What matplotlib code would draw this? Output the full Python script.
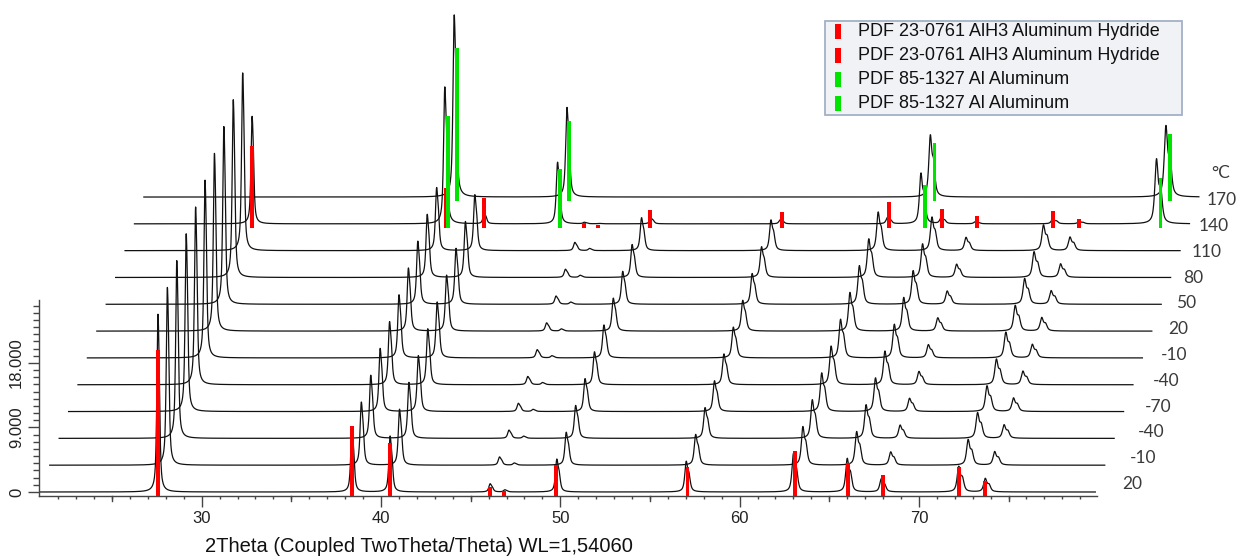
import numpy as np
import matplotlib
matplotlib.use("Agg")
import matplotlib.pyplot as plt
from matplotlib.patches import Rectangle
from matplotlib.transforms import blended_transform_factory

# ---------------- data ----------------
temps = ['20', '-10', '-40', '-70', '-40', '-10', '20', '50', '80', '110', '140', '170']

# measured AlH3 reflections (2theta, counts) of scans 20 ... 110 degC
alh3_peak_pos = [27.55, 38.37, 40.50, 46.08, 46.90, 49.80, 57.02, 63.00, 66.00, 67.90, 72.22, 73.70]
alh3_peak_cts = [24800, 8800, 7800, 1150, 300, 4600, 4300, 5400, 4700, 1850, 3600, 1900]
# remaining AlH3 in the 140 degC scan
alh3_peak_cts_140 = [15000, 0, 1500, 200, 50, 800, 600, 900, 900, 300, 700, 350]
# Al reflections
al_peak_pos = [38.30, 44.59, 64.86, 78.00]
al_peak_cts_140 = [19100, 8600, 7100, 9100]
al_peak_cts_170 = [25400, 12500, 8700, 10000]

# reference lines (PDF cards), relative intensities
alh3_ref_pos = [27.55, 38.37, 40.50, 46.08, 46.86, 49.77, 57.10, 63.09, 66.03, 68.00, 72.25, 73.69]
alh3_ref_int = [100, 47.8, 36.4, 5.8, 3.2, 21.1, 19.5, 30.7, 22.4, 14.2, 19.7, 10.1]
al_ref_pos = [38.47, 44.72, 65.10, 78.23]
al_ref_int = [100, 52, 38, 44]

legend_labels = ['PDF 23-0761 AlH3 Aluminum Hydride', 'PDF 23-0761 AlH3 Aluminum Hydride',
                 'PDF 85-1327 Al Aluminum', 'PDF 85-1327 Al Aluminum']
legend_colors = ['#FF0000', '#FF0000', '#00E400', '#00E400']

# --------------- layout constants ---------------
W, H = 1237, 557
dx = 0.525        # waterfall shift per scan (deg)
dy = 3740         # waterfall shift per scan (counts)
scan_range = (21.0, 79.85)

def pv(x, x0, fw, eta=0.7):
    t = (x - x0) / fw
    return eta / (1 + 4 * t * t) + (1 - eta) * np.exp(-4 * np.log(2) * t * t)

def reflection(x, x0, h):
    fw = 0.09 + 0.0016 * x0
    x2 = 2 * np.degrees(np.arcsin(1.54439 / 1.54056 * np.sin(np.radians(x0 / 2))))
    t = np.linspace(x0 - 0.5, x0 + 0.5, 2001)
    norm = (pv(t, x0, fw) + 0.5 * pv(t, x2, fw)).max()
    return h * (pv(x, x0, fw) + 0.5 * pv(x, x2, fw)) / norm

def pattern(x, pos, cts):
    y = np.zeros_like(x)
    for p, c in zip(pos, cts):
        if c > 0:
            y += reflection(x, p, c)
    return y

fig = plt.figure(figsize=(W / 100, H / 100), dpi=100)
x30, ppd = 201.7, 17.93
ax_l = 39.3
y0px, axb = 492.0, 496.0
ppc = 7.17 / 1000
ax = fig.add_axes([ax_l / W, (H - axb) / H, (W - ax_l) / W, axb / H])
ax.set_xlim(30 - (x30 - ax_l) / ppd, 30 + (W - x30) / ppd)
ax.set_ylim(-(axb - y0px) / ppc, y0px / ppc)
ax.patch.set_alpha(0)

xx = np.arange(scan_range[0], scan_range[1], 0.01)
for i in range(len(temps)):
    if i < 10:
        y = pattern(xx, alh3_peak_pos, alh3_peak_cts)
    elif i == 10:
        y = pattern(xx, alh3_peak_pos, alh3_peak_cts_140) + pattern(xx, al_peak_pos, al_peak_cts_140)
    else:
        y = pattern(xx, al_peak_pos, al_peak_cts_170)
    ax.plot(xx + i * dx, y + i * dy, color='#111111', lw=0.9, clip_on=False, zorder=2)

bar_w = 0.21
below = 520
def ref_bars(i, pos, rel, scale, color):
    pos = np.asarray(pos) + i * dx
    hts = np.asarray(rel) / 100 * scale
    ax.bar(pos, hts, width=bar_w, bottom=i * dy - below, color=color, lw=0, zorder=3, clip_on=False)

ref_bars(0, alh3_ref_pos, alh3_ref_int, 20300, '#FF0000')
ref_bars(10, alh3_ref_pos, alh3_ref_int, 11400, '#FF0000')
ref_bars(10, al_ref_pos, al_ref_int, 15600, '#00E400')
ref_bars(11, al_ref_pos, al_ref_int, 21300, '#00E400')

# axes styling
for s in ['top', 'right']:
    ax.spines[s].set_visible(False)
ax.spines['bottom'].set_bounds(ax.get_xlim()[0], 79.92)
ax.spines['left'].set_bounds(ax.get_ylim()[0], 26800)
for s in ['bottom', 'left']:
    ax.spines[s].set_color('#444444')
    ax.spines[s].set_linewidth(1.0)

ax.set_xticks([30, 40, 50, 60, 70])
ax.set_xticklabels(['30', '40', '50', '60', '70'])
ax.set_xticks(np.arange(22, 80, 1), minor=True)
ax.tick_params(axis='x', which='major', length=8, width=1.0, color='#444444', pad=3,
               labelsize=12, labelcolor='#222222')
ax.tick_params(axis='x', which='minor', length=2.4, width=1.0, color='#444444')
tr = blended_transform_factory(ax.transData, ax.transAxes)
for v in [25, 35, 45, 55, 65, 75]:
    ax.plot([v, v], [0, -4.8 / axb], transform=tr, color='#444444', lw=1.0, clip_on=False)

ax.set_yticks([0, 9000, 18000])
ax.set_yticklabels(['0', '9.000', '18.000'], rotation=90, va='center')
ax.set_yticks(np.arange(0, 27000, 1000), minor=True)
ax.tick_params(axis='y', which='major', length=8, width=1.0, color='#444444', pad=3,
               labelsize=12, labelcolor='#222222')
ax.tick_params(axis='y', which='minor', length=4.3, width=1.0, color='#444444')
for lab in ax.get_xticklabels() + ax.get_yticklabels():
    lab.set_family('Liberation Sans')

# overlay in pixel coordinates for annotations
ov = fig.add_axes([0, 0, 1, 1])
ov.set_xlim(0, W)
ov.set_ylim(H, 0)
ov.axis('off')
ov.patch.set_alpha(0)

ov.text(419, 547, '2Theta (Coupled TwoTheta/Theta) WL=1,54060', ha='center', va='center',
        fontsize=14.5, family='Liberation Sans', color='#111111')

for i, t in enumerate(temps):
    ov.text(1122 + i * 7.7, 484 - i * 25.8, t, ha='left', va='center', fontsize=12.5,
            family='Lato', color='#3a3a3a')
ov.text(1211, 173, '°C', ha='left', va='center', fontsize=12.5, family='Lato', color='#3a3a3a')

ov.add_patch(Rectangle((825, 20.7), 357, 94.3, facecolor='#F1F2F6', edgecolor='#A3B1C6', lw=1.3))
for k, (lab, c) in enumerate(zip(legend_labels, legend_colors)):
    yc = 31 + k * 24
    ov.add_patch(Rectangle((835, yc - 7.5), 5.5, 15, facecolor=c, edgecolor='none'))
    ov.text(858, yc, lab, ha='left', va='center', fontsize=13, family='Liberation Sans', color='#111111')

fig.savefig('out.png', dpi=100)
